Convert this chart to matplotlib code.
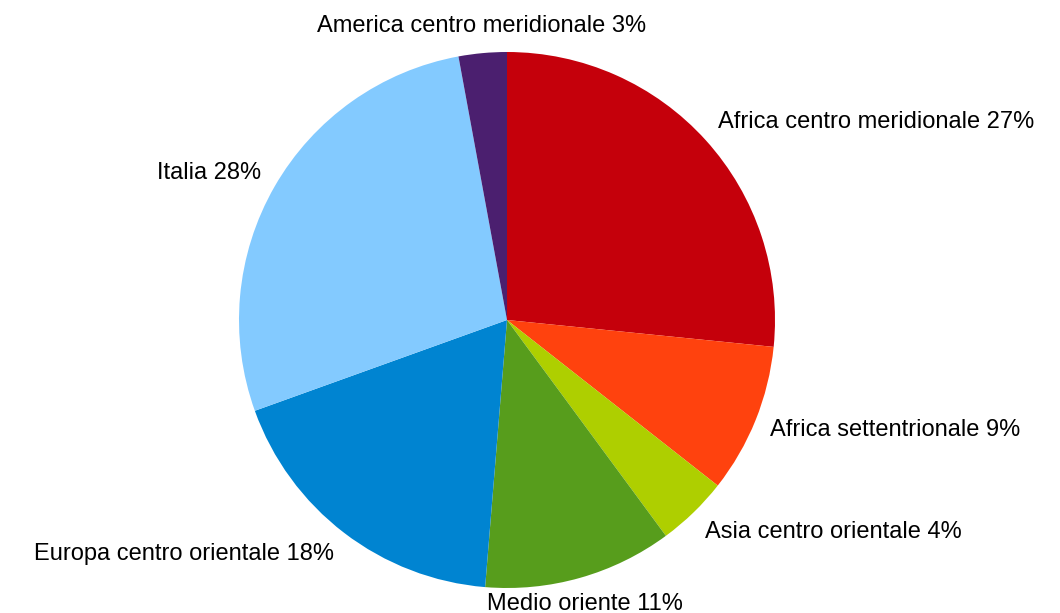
import numpy as np
import matplotlib
matplotlib.use("Agg")
import matplotlib.pyplot as plt

plt.rcParams['font.family'] = ['Liberation Sans', 'DejaVu Sans']

# Dati
categorie = ["Africa centro meridionale", "Africa settentrionale", "Asia centro orientale",
             "Medio oriente", "Europa centro orientale", "Italia",
             "America centro meridionale"]
valori = [26.6, 9.0, 4.3, 11.4, 18.2, 27.6, 2.9]
colori = ["#C5000B", "#FF420E", "#AECF00", "#579D1C", "#0084D1", "#83CAFF", "#4B1F6F"]

W, H = 1060, 613
fig = plt.figure(figsize=(W / 100, H / 100), dpi=100)
ax = fig.add_axes([0, 0, 1, 1])

centro = (507, 293)
raggio = 268

wedges, _ = ax.pie(valori, colors=colori, startangle=90, counterclock=False,
                   radius=raggio, center=centro, frame=True)

totale = sum(valori)
for w, nome, v in zip(wedges, categorie, valori):
    ang = np.deg2rad((w.theta1 + w.theta2) / 2)
    dx, dy = np.cos(ang), np.sin(ang)
    x = centro[0] + raggio * 1.06 * dx
    y = centro[1] + raggio * 1.1 * dy
    if abs(dx) < 0.35:
        ha = "center"
    elif dx > 0:
        ha = "left"
    else:
        ha = "right"
    ax.text(x, y, "%s %d%%" % (nome, round(v / totale * 100)), ha=ha, va="center",
            fontsize=17, color="black")

ax.set_xlim(0, W)
ax.set_ylim(0, H)
ax.set_aspect("equal")
ax.axis("off")

plt.savefig("out.png", dpi=100)
